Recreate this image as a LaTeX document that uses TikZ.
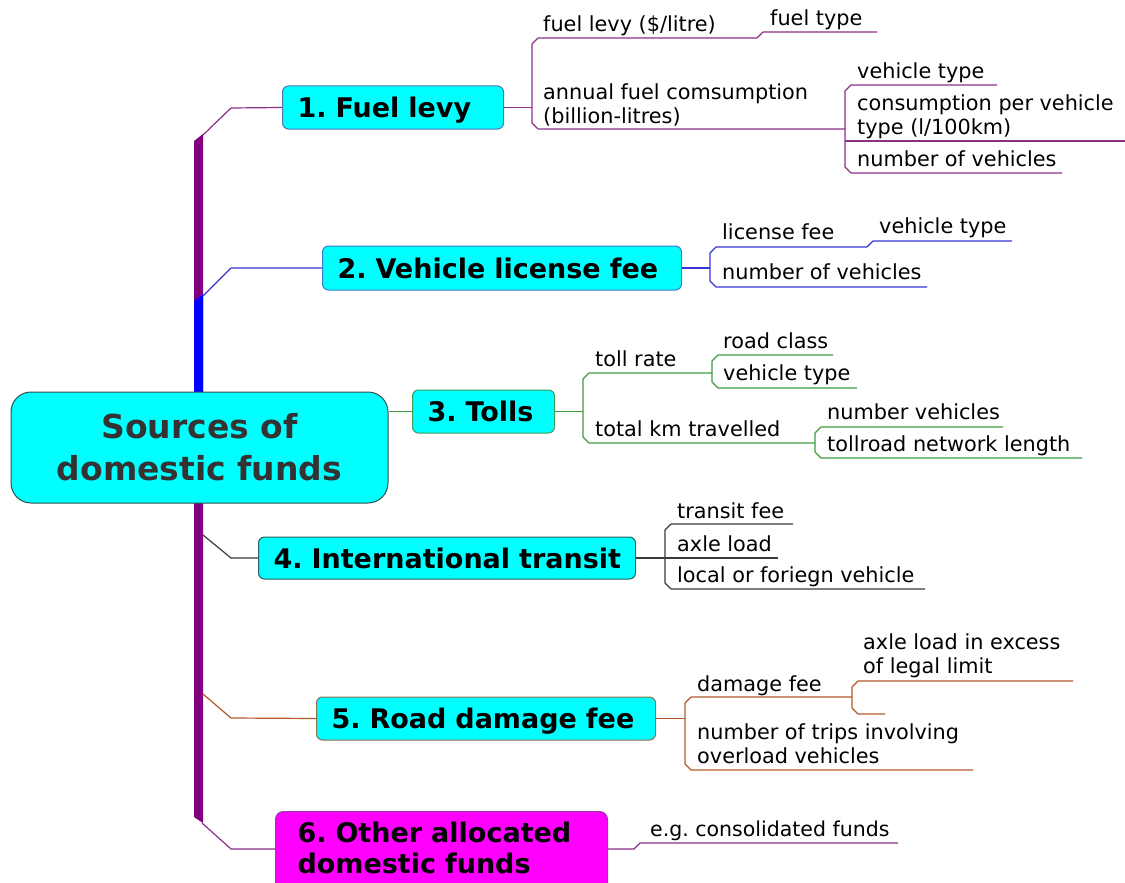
\documentclass[tikz,border=0pt]{standalone}
\usepackage{fontspec}
\setmainfont{DejaVu Sans}
\usetikzlibrary{backgrounds}

\definecolor{trunkpurple}{HTML}{800080}
\definecolor{trunkblue}{HTML}{0000FF}
\definecolor{lnpurple}{HTML}{8B2F8B}
\definecolor{lnblue}{HTML}{3535D5}
\definecolor{lngreen}{HTML}{3E9B3E}
\definecolor{lndark}{HTML}{3A3A3A}
\definecolor{lnbrown}{HTML}{B4582A}
\definecolor{boxcyan}{HTML}{00FFFF}
\definecolor{boxmagenta}{HTML}{FF00FF}
\definecolor{roottext}{HTML}{333333}
\definecolor{rootedge}{HTML}{2F4F4F}
\definecolor{edgeone}{HTML}{4A78B8}
\definecolor{edgetwo}{HTML}{3A7FD5}
\definecolor{edgethree}{HTML}{3C9A5A}
\definecolor{edgefour}{HTML}{2F5F5F}
\definecolor{edgefive}{HTML}{8B7050}
\definecolor{edgesix}{HTML}{9933AA}

\newcommand\subfont{\fontsize{20.8}{24}\selectfont\frenchspacing}
\newcommand\topicfont{\fontsize{27}{31}\selectfont\bfseries\frenchspacing}
\newcommand\rootfont{\fontsize{33}{42}\selectfont\bfseries}

\begin{document}
\begin{tikzpicture}[x=1pt,y=-1pt,
  topic/.style={draw=#1, fill=boxcyan, rounded corners=6pt, line width=1pt,
    font=\topicfont, align=left, inner xsep=15pt, inner ysep=0pt,
    text height=20pt, text depth=0pt, anchor=west},
  sub/.style={font=\subfont, anchor=base west, inner sep=0pt, align=left},
  br/.style={draw=#1, line width=1.2pt, line join=round},
  trunk/.style={fill=#1},
]
\useasboundingbox (0,0) rectangle (1125,883);

% central topic
\node[draw=rootedge, fill=boxcyan, rounded corners=20pt, line width=1pt,
      minimum width=377pt, minimum height=111pt, inner sep=0pt,
      align=center, font=\rootfont, text=roottext]
  (root) at (199.5,447.5) {Sources of\\domestic funds};

% main topics
\node[topic=edgeone,   text width=191pt, minimum height=43pt] (b1) at (282,107.5) {\mbox{1. Fuel levy}};
\node[topic=edgetwo,   text width=329pt, minimum height=44pt] (b2) at (322,268)   {\mbox{2. Vehicle license fee}};
\node[topic=edgethree, text width=112pt, minimum height=43pt] (b3) at (412,411.5) {\mbox{3. Tolls}};
\node[topic=edgefour,  text width=347pt, minimum height=42pt] (b4) at (258,558)   {\mbox{4. International transit}};
\node[topic=edgefive,  text width=309pt, minimum height=43pt] (b5) at (316,718.5) {\mbox{5. Road damage fee}};
\node[draw=edgesix, fill=boxmagenta, rounded corners=8pt, line width=1pt,
      font=\topicfont, align=left, text width=288pt, inner xsep=22pt,
      inner ysep=10.5pt, anchor=north west]
  (b6) at (275,811) {6. Other allocated\\domestic funds\rule[-16pt]{0pt}{0pt}};

% 1. fuel levy details (multi-line texts are placed by their last baseline)
\node[sub] (fl)  at (543,32)  {fuel levy (\$/litre)};
\node[sub] (ft)  at (770,26)  {fuel type};
\node[sub] (afc) at (543,123) {annual fuel comsumption\\(billion-litres)};
\node[sub] (vt1) at (857,78)  {vehicle type};
\node[sub] (cpv) at (857,134) {consumption per vehicle\\type (l/100km)};
\node[sub] (nv1) at (857,166) {number of vehicles};

% 2. vehicle license fee details
\node[sub] (lf)  at (722,239) {license fee};
\node[sub] (vt2) at (879,233) {vehicle type};
\node[sub] (nv2) at (722,279) {number of vehicles};

% 3. tolls details
\node[sub] (tr)  at (595,366) {toll rate};
\node[sub] (rc)  at (723,348) {road class};
\node[sub] (vt3) at (723,380) {vehicle type};
\node[sub] (tkm) at (595,436) {total km travelled};
\node[sub] (nv3) at (827,419) {number vehicles};
\node[sub] (tnl) at (827,451) {tollroad network length};

% 4. international transit details
\node[sub] (tf)  at (677,518) {transit fee};
\node[sub] (al)  at (677,551) {axle load};
\node[sub] (lfv) at (677,582) {local or foriegn vehicle};

% 5. road damage fee details
\node[sub] (df)  at (697,691) {damage fee};
\node[sub] (ale) at (863,673) {axle load in excess\\of legal limit};
\node[sub] (ntr) at (697,763) {number of trips involving\\overload vehicles};

% 6. other allocated funds details
\node[sub, font=\fontsize{20.5}{24}\selectfont\frenchspacing] (eg) at (650,836) {e.g. consolidated funds};

\begin{pgfonlayer}{background}
  % thick trunk of the map
  \fill[trunk=trunkpurple] (194,141) -- (203,134) -- (203,447) -- (194,447) -- cycle;
  \fill[trunk=trunkblue]   (194,301) -- (203,294) -- (203,447) -- (194,447) -- cycle;
  \fill[trunk=trunkpurple] (194,447) -- (203,447) -- (203,823) -- (194,817) -- cycle;

  % branches from the trunk to the main topics
  \draw[br=lnpurple] (203,135) -- (231,108) -- (b1.west);
  \draw[br=lnblue]   (203,296) -- (231,268) -- (b2.west);
  \draw[br=lngreen]  (root.east |- b3.west) -- (b3.west);
  \draw[br=lndark]   (203,535) -- (231,558) -- (b4.west);
  \draw[br=lnbrown]  (203,694) -- (231,718) -- (b5.west);
  \draw[br=lnpurple] (202,823) -- (231,849) -- (b6.west |- 0,849);

  % 1. fuel levy
  \draw[br=lnpurple] (b1.east) -- (532,107.5);
  \draw[br=lnpurple] (757,38) -- (538,38) -- (532,44) -- (532,123) -- (538,129) -- (845,129);
  \draw[br=lnpurple] (757,38) -- (763,32) -- (877,32);
  \draw[br=lnpurple] (997,85) -- (851,85) -- (845,91) -- (845,167) -- (851,173) -- (1062,173);
  \draw[br=lnpurple] (845,141) -- (1125,141);

  % 2. vehicle license fee
  \draw[br=lnblue] (b2.east) -- (710,268);
  \draw[br=lnblue] (867,247) -- (716,247) -- (710,253) -- (710,281) -- (716,287) -- (927,287);
  \draw[br=lnblue] (867,247) -- (873,241) -- (1012,241);

  % 3. tolls
  \draw[br=lngreen] (b3.east) -- (583,411.5);
  \draw[br=lngreen] (712,373) -- (589,373) -- (583,379) -- (583,437) -- (589,443) -- (815,443);
  \draw[br=lngreen] (833,355) -- (718,355) -- (712,361) -- (712,382) -- (718,388) -- (857,388);
  \draw[br=lngreen] (1003,427) -- (821,427) -- (815,433) -- (815,452) -- (821,458) -- (1082,458);

  % 4. international transit
  \draw[br=lndark] (b4.east) -- (665,558);
  \draw[br=lndark] (793,524) -- (671,524) -- (665,530) -- (665,583) -- (671,589) -- (925,589);
  \draw[br=lndark] (665,558) -- (778,558);

  % 5. road damage fee
  \draw[br=lnbrown] (b5.east) -- (685,718.5);
  \draw[br=lnbrown] (852,697) -- (691,697) -- (685,703) -- (685,764) -- (691,770) -- (973,770);
  \draw[br=lnbrown] (1073,681) -- (858,681) -- (852,687) -- (852,708) -- (858,714) -- (885,714);

  % 6. other allocated funds
  \draw[br=lnpurple] (b6.east |- 0,849) -- (634,849) -- (640,843) -- (898,843);
\end{pgfonlayer}
\end{tikzpicture}
\end{document}
